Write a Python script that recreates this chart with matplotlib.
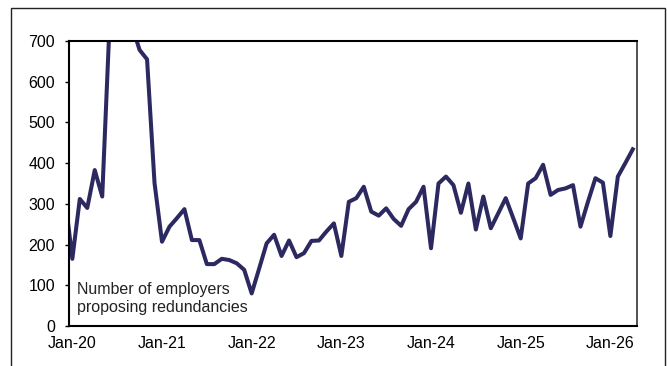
import numpy as np
import matplotlib
matplotlib.use("Agg")
from matplotlib import pyplot as plt
from matplotlib.patches import Rectangle

# monthly counts, Dec-19 .. Apr-26 (Dec-19 sits just outside the left edge)
months = np.arange(-1, 76)
employers = [320,
             165, 312, 290, 383, 318, 750, 1400, 1000, 736, 678, 655, 351,
             207, 244, 265, 287, 211, 211, 152, 152, 165, 162, 154, 138,
             80, 141, 203, 224, 172, 210, 169, 179, 209, 210, 232, 252,
             172, 305, 314, 342, 281, 271, 289, 263, 246, 287, 305, 342,
             191, 350, 367, 346, 278, 350, 237, 318, 240, 277, 314, 265,
             215, 350, 363, 396, 322, 334, 338, 346, 244, 305, 363, 352,
             221, 367, 400, 434]
tick_pos = [0, 12, 24, 36, 48, 60, 72]
tick_labels = ["Jan-20", "Jan-21", "Jan-22", "Jan-23", "Jan-24", "Jan-25", "Jan-26"]

plt.rcParams["font.family"] = ["Liberation Sans", "DejaVu Sans"]
plt.rcParams["font.size"] = 11.5

fig = plt.figure(figsize=(6.67, 3.66), dpi=100)
ax = fig.add_axes([0.1034, 0.1093, 0.8509, 0.7787])

# outer frame around the whole chart
fig.patches.append(Rectangle((0.0165, -0.05), 0.9805, 1.028, transform=fig.transFigure,
                             fill=False, edgecolor="#222222", linewidth=1.0))

ax.plot(months, employers, color="#2c2960", linewidth=2.9, solid_joinstyle="round")

ax.set_xlim(-0.45, 75.5)
ax.set_ylim(0, 700)
ax.set_yticks(range(0, 701, 100))
ax.set_xticks(tick_pos)
ax.set_xticklabels(tick_labels)
ax.tick_params(axis="y", direction="out", length=3, width=1, pad=7, colors="black")
ax.tick_params(axis="x", length=0, pad=7)
for s in ax.spines.values():
    s.set_linewidth(1.5)
    s.set_color("black")
ax.spines["right"].set_linewidth(1.2)
ax.spines["right"].set_color("#333333")

ax.text(0.6, 107, "Number of employers\nproposing redundancies", ha="left", va="top",
        fontsize=11.5, color="#222222", linespacing=1.2)

plt.savefig("out.png", dpi=100)
